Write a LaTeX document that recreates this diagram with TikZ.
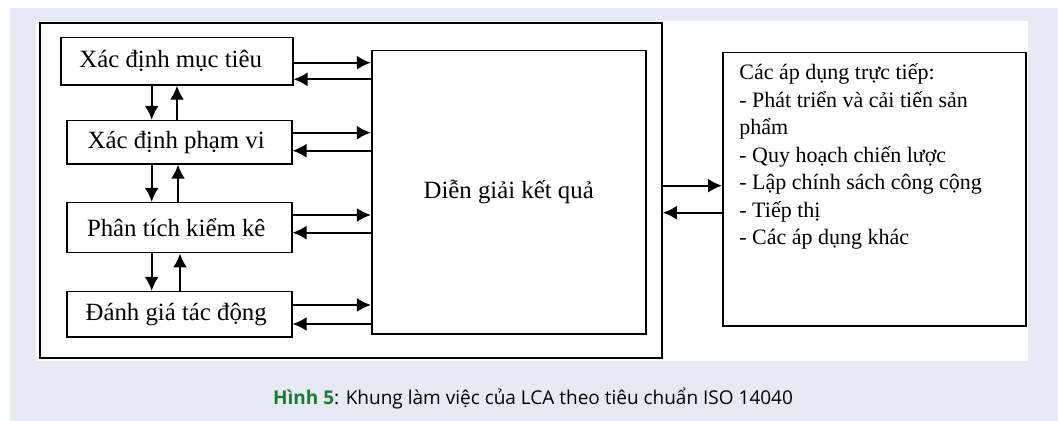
\documentclass[tikz,border=0pt]{standalone}
\usepackage{fontspec}
\setmainfont{Liberation Serif}
\newfontfamily\capfont{Open Sans}
\usetikzlibrary{arrows.meta, positioning, calc}
\definecolor{pagebg}{HTML}{E6EAF5}
\definecolor{capgreen}{HTML}{1E7B34}
\tikzset{
    lcadiagram/.style={x=0.5pt, y=-0.5pt, >={Latex[length=7pt, width=7pt]}},
    phase/.style={draw, line width=0.8pt, inner sep=0pt, align=center, font=\fontsize{12.4}{15}\selectfont},
    holder/.style={draw, line width=0.8pt, inner sep=0pt},
    link/.style={->, line width=1.05pt},
}

\begin{document}
\begin{tikzpicture}[lcadiagram]
    % page, panel
    \useasboundingbox (0,0) rectangle (1058,421);
    \fill[pagebg] (10,8) rectangle (1058,421);
    \fill[white] (36,21) rectangle (1028,361);

    \node[holder, minimum width=311pt, minimum height=167.3pt] (frame) at (351,190.5) {};

    % the four phases
    \node[phase, minimum width=116pt, minimum height=23.6pt] (goal) at (176.7,61.3) {Xác định mục tiêu\hspace*{6pt}};
    \node[phase, minimum width=112.5pt, minimum height=21.6pt] (scope) at (179.2,142.3) {Xác định phạm vi\hspace*{3pt}};
    \node[phase, minimum width=112.5pt, minimum height=25pt] (inventory) at (179.2,227.7) {Phân tích kiểm kê\hspace*{3pt}};
    \node[phase, minimum width=112.5pt, minimum height=22.8pt] (impact) at (179.2,314.5) {Đánh giá tác động\hspace*{3pt}};

    \node[phase, minimum width=137pt, minimum height=141.6pt] (interp) at (508.7,192.3) {Diễn giải kết quả};

    \node[holder, minimum width=151.6pt, minimum height=136.8pt] (apps) at (874.4,189.2) {};
    \node[anchor=north west, align=left, inner sep=0pt, font=\fontsize{11}{13.75}\selectfont] (appstext)
        at ($(apps.north west)+(17,12)$)
        {Các áp dụng trực tiếp:\\
         - Phát triển và cải tiến sản\\
         phẩm\\
         - Quy hoạch chiến lược\\
         - Lập chính sách công cộng\\
         - Tiếp thị\\
         - Các áp dụng khác};

    % up and down between phases
    \foreach \u/\l/\up in {goal/scope/-2.2, scope/inventory/-1.2, inventory/impact/0.8} {
        \draw[link] (\l.north) ++(-27.5,0) coordinate (d) (d |- \u.south) -- (d);
        \draw[link] (\l.north) ++(\up,0) coordinate (u) -- (u |- \u.south);
    }

    % each phase to and from interpretation
    \foreach \b/\o/\i in {goal/1.4/18, scope/-9.6/8.4, inventory/-12.7/5, impact/-9.5/9.5} {
        \draw[link] (\b.east) ++(0,\o) coordinate (o) -- (o -| interp.west);
        \draw[link] (\b.east) ++(0,\i) coordinate (i) (i -| interp.west) -- (i);
    }

    \draw[link] (frame.east) ++(0,-4.8) coordinate (r) -- (r -| apps.west);
    \draw[link] (frame.east) ++(0,22.2) coordinate (l) (l -| apps.west) -- (l);

    \node[font=\capfont\fontsize{9.5}{11}\selectfont] (caption) at (533,399)
        {\textcolor{capgreen}{\bfseries Hình 5}: Khung làm việc của LCA theo tiêu chuẩn ISO 14040};
\end{tikzpicture}
\end{document}
